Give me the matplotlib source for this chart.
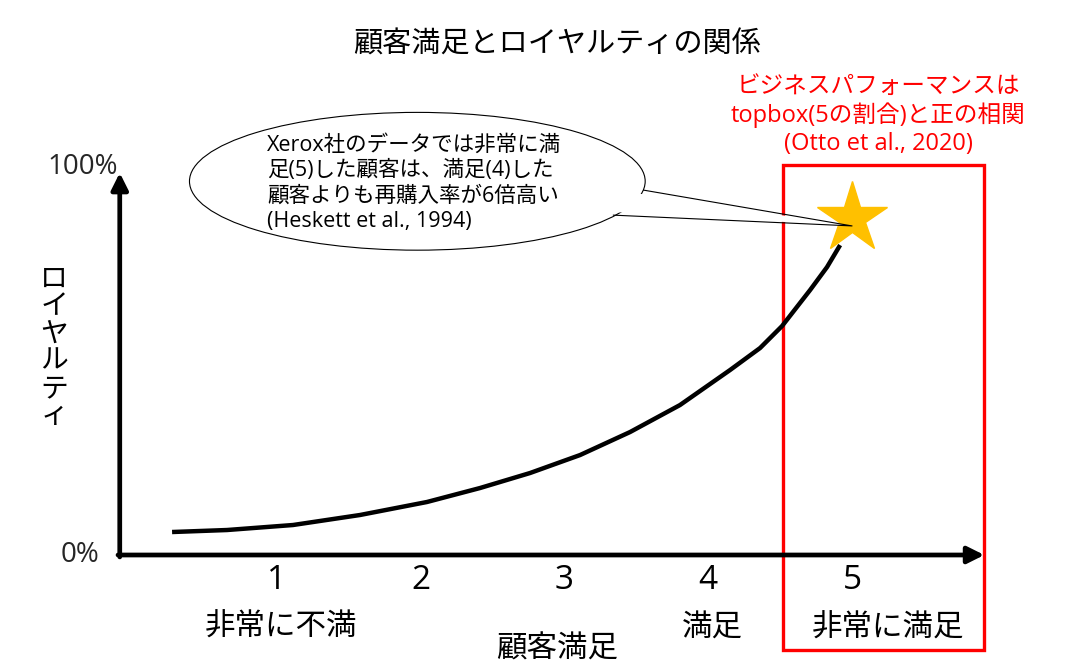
import matplotlib.pyplot as plt
from matplotlib.patches import Ellipse, Rectangle, Polygon

plt.rcParams['font.family'] = ['Open Sans', 'Noto Sans CJK JP', 'DejaVu Sans']

# data
levels = [1, 2, 3, 4, 5]
level_names = ['非常に不満', '', '', '満足', '非常に満足']
curve_x = [0.270, 0.652, 1.111, 1.577, 2.043, 2.412, 2.760, 3.108, 3.456, 3.803,
           4.151, 4.360, 4.513, 4.708, 4.826, 4.917]
curve_y = [5.97, 6.49, 7.79, 10.39, 13.77, 17.40, 21.30, 25.97, 31.95, 38.96,
           48.05, 53.77, 59.48, 68.83, 74.81, 80.52]
star_pt = (5.0, 87.5)

fig = plt.figure(figsize=(10.72, 6.72), dpi=100)
ax = fig.add_axes([0, 0, 1, 1])
ax.set_xlim(-0.927, 6.530)
ax.set_ylim(-30.4, 144.2)
ax.axis('off')

x0 = -0.094
arrow = dict(arrowstyle='-|>,head_length=1.0,head_width=0.5', lw=3.4, color='black',
             shrinkA=0, shrinkB=0)
ax.annotate('', xy=(5.92, 0), xytext=(x0 - 0.012, 0), arrowprops=arrow)
ax.annotate('', xy=(x0, 99.3), xytext=(x0, -0.5), arrowprops=arrow)

ax.plot(curve_x, curve_y, color='black', lw=3.2, solid_capstyle='butt',
        solid_joinstyle='round', zorder=2)
ax.plot(*star_pt, marker='*', markersize=53, color='#FFC000', markeredgecolor='#FFC000', zorder=3)

# callout
tail_top = (3.55, 94.8)
tail_low = (3.34, 88.3)
tail_tip = (5.0, 85.5)
ax.add_patch(Ellipse((1.976, 97.1), 3.17, 35.8, facecolor='white', edgecolor='black', lw=0.8, zorder=4))
ax.add_patch(Polygon([(3.50, 94.0), tail_tip, (3.30, 89.2)], closed=True, facecolor='white',
                     edgecolor='none', zorder=5))
ax.plot([tail_top[0], tail_tip[0], tail_low[0]], [tail_top[1], tail_tip[1], tail_low[1]],
        color='black', lw=0.8, zorder=6)
ax.text(0.93, 96.6, 'Xerox社のデータでは非常に満\n足(5)した顧客は、満足(4)した\n顧客よりも再購入率が6倍高い\n(Heskett et al., 1994)',
        ha='left', va='center', fontsize=15.5, linespacing=1.26, zorder=7)

# red box
ax.add_patch(Rectangle((4.519, -24.7), 1.40, 126.0, facecolor='none', edgecolor='red', lw=2.4))
ax.text(5.183, 114.2, 'ビジネスパフォーマンスは\ntopbox(5の割合)と正の相関\n(Otto et al., 2020)',
        ha='center', va='center', fontsize=17, color='red', linespacing=1.18)

for lv, nm in zip(levels, level_names):
    ax.text(lv, -6.5, str(lv), ha='center', va='center', fontsize=24)
    if nm:
        ax.text(lv + (0.25 if lv == 5 else 0.03), -19.0, nm, ha='center', va='center', fontsize=22)

ax.text(-0.108, 100.7, '100%', ha='right', va='center', fontsize=20, color='#262626')
ax.text(-0.233, 0.0, '0%', ha='right', va='center', fontsize=20, color='#262626')
ax.text(-0.55, 54, '\n'.join('ロイヤルティ'), ha='center', va='center', fontsize=20,
        linespacing=0.88, family=['Noto Sans CJK JP'])
ax.text(2.95, -24.7, '顧客満足', ha='center', va='center', fontsize=22)
ax.text(2.95, 132.5, '顧客満足とロイヤルティの関係', ha='center', va='center', fontsize=21)

fig.savefig('out.png', dpi=100)
